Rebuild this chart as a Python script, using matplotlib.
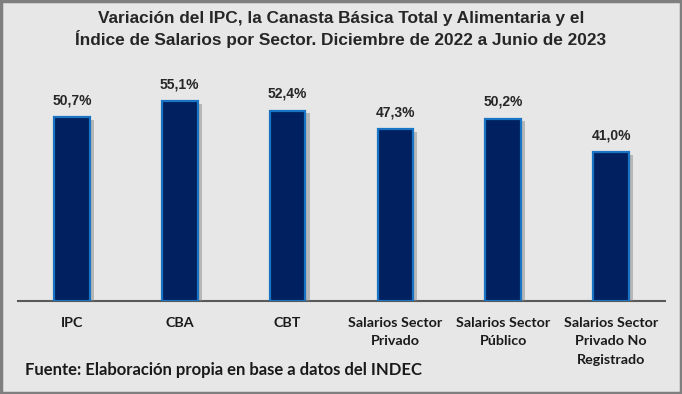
import matplotlib
matplotlib.use("Agg")
import matplotlib.pyplot as plt
import matplotlib.patheffects as pe
from matplotlib.patches import Rectangle

categories = ["IPC", "CBA", "CBT", "Salarios Sector\nPrivado", "Salarios Sector\nPúblico", "Salarios Sector\nPrivado No\nRegistrado"]
values = [50.7, 55.1, 52.4, 47.3, 50.2, 41.0]
value_labels = ["50,7%", "55,1%", "52,4%", "47,3%", "50,2%", "41,0%"]

W, H = 682, 394
bg = "#e7e7e7"
fig = plt.figure(figsize=(W/100, H/100), dpi=100, facecolor=bg)
ax = fig.add_axes([18/W, 1-301/H, (665-18)/W, (301-83)/H])
ax.set_facecolor(bg)
x = list(range(len(categories)))
bars = ax.bar(x, values, width=0.33, color="#00205f", edgecolor="#1a74c4", linewidth=1.6, zorder=3)
for b in bars:
    b.set_path_effects([pe.SimplePatchShadow(offset=(3, -2), shadow_rgbFace="#888888", alpha=0.5), pe.Normal()])
ax.set_xlim(-0.5, len(categories)-0.5)
ax.set_ylim(0, 60)
for xi, v, lab in zip(x, values, value_labels):
    ax.annotate(lab, (xi, v), xytext=(0, 7), textcoords="offset points", ha="center", va="bottom",
                fontsize=10, fontweight="bold", family="Liberation Sans", color="#262626")
for s in ["top", "right", "left"]:
    ax.spines[s].set_visible(False)
ax.spines["bottom"].set_color("#595959")
ax.spines["bottom"].set_linewidth(1.5)
ax.set_yticks([])
ax.set_xticks(x)
ax.set_xticklabels(categories, fontsize=10.3, family="Lato", fontweight="bold", color="#1a1a1a", linespacing=1.65, va="top")
ax.tick_params(axis="x", length=0, pad=11.5)

fig.text(0.5, 1-29.5/H, "Variación del IPC, la Canasta Básica Total y Alimentaria y el\nÍndice de Salarios por Sector. Diciembre de 2022 a Junio de 2023",
         ha="center", va="center", fontsize=12.4, fontweight="bold", family="Liberation Sans", color="#262626", linespacing=1.25)
fig.text(25/W, 1-370/H, "Fuente: Elaboración propia en base a datos del INDEC", ha="left", va="center",
         fontsize=12, fontweight="bold", family="Lato", color="#1a1a1a")
fig.patches.append(Rectangle((0.002, 0.003), 0.996, 0.994, transform=fig.transFigure, fill=False,
                             edgecolor="#7f7f7f", linewidth=2.5))
fig.savefig("out.png", dpi=100, facecolor=bg)
